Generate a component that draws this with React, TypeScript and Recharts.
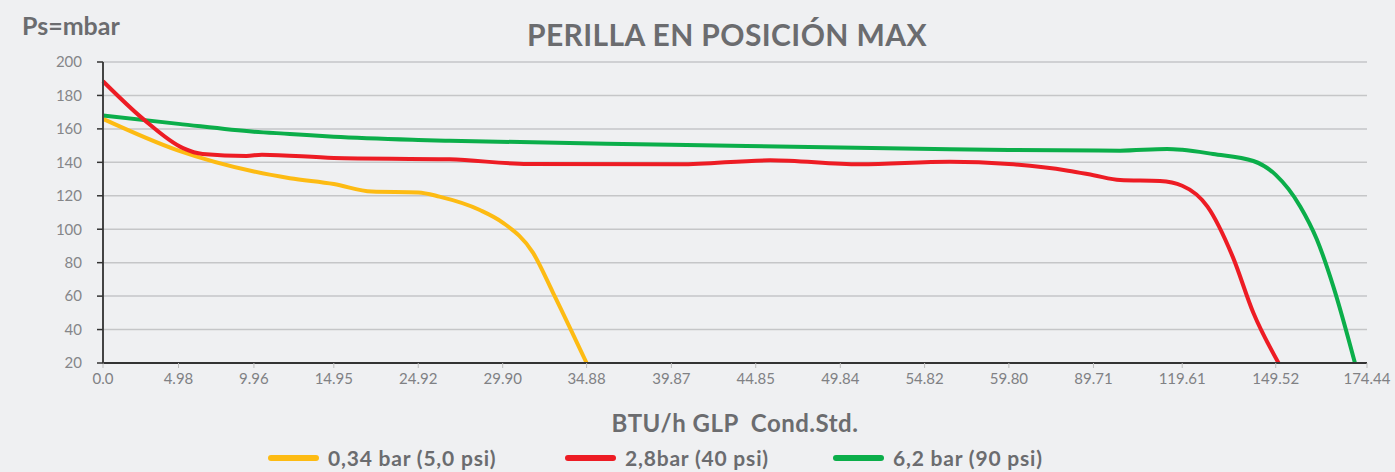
import { LineChart, Line, XAxis, YAxis, CartesianGrid } from "recharts";

// x axis is drawn in "position" units; the source picture spaces its category labels unevenly
const xLabels = ["0.0", "4.98", "9.96", "14.95", "24.92", "29.90", "34.88", "39.87", "44.85", "49.84", "54.82", "59.80", "89.71", "119.61", "149.52", "174.44"];
const xTickPos = [0, 0.896, 1.791, 2.739, 3.741, 4.743, 5.739, 6.745, 7.746, 8.75, 9.75, 10.75, 11.754, 12.807, 13.917, 15];
const yTicks = [20, 40, 60, 80, 100, 120, 140, 160, 180, 200];

const yellowX = [0, 0.896, 1.791, 2.218, 2.739, 3.19, 3.741, 3.992, 4.472, 4.743, 5.102, 5.341, 5.739];
const yellowY = [166, 147, 134.5, 130.5, 127, 122.5, 122, 119.5, 111.5, 104, 86, 62, 20];

const redX = [0, 0.475, 0.95, 1.182, 1.702, 1.886, 2.739, 4.112, 5.042, 6.845, 7.917, 8.98, 10.05, 10.75, 11.453, 11.754, 12.07, 12.544, 12.807, 13.107, 13.406, 13.651, 13.95];
const redY = [188.5, 166, 148.5, 145, 143.8, 144.6, 142.6, 141.8, 139, 138.8, 141.2, 138.8, 140.4, 139, 135, 132.3, 129.4, 128.8, 126, 113.5, 83.6, 50, 20];

const greenX = [0, 0.896, 1.791, 2.218, 2.739, 3.741, 4.112, 6.745, 10.05, 10.75, 12.07, 12.628, 12.807, 13.173, 13.651, 13.917, 14.209, 14.404, 14.599, 14.857];
const greenY = [168, 163, 158.3, 157, 155.3, 153.4, 152.9, 150.5, 147.8, 147.4, 147, 148, 147.5, 145, 140.8, 132.5, 113.5, 94, 66, 20];

const seriesNames = ["0,34 bar (5,0 psi)", "2,8bar (40 psi)", "6,2 bar (90 psi)"];
const seriesColors = ["#FDBB13", "#ED1C24", "#0BAE4A"];

const toPoints = (xs: number[], ys: number[]) => xs.map((x, i) => ({ x, y: ys[i] }));

const yellowData = toPoints(yellowX, yellowY);
const redData = toPoints(redX, redY);
const greenData = toPoints(greenX, greenY);

const font = "Lato, 'Open Sans', sans-serif";
const textGray = "#6b6c6f";

export default function App() {
  return (
    <div style={{ position: "relative", width: 1395, height: 472, background: "#eff0f2", fontFamily: font, overflow: "hidden" }}>
      <style>{`body{margin:0}`}</style>
      <div style={{ position: "absolute", left: 22, top: 10, fontSize: 25, fontWeight: 700, color: textGray }}>Ps=mbar</div>
      <div style={{ position: "absolute", left: 0, width: 1454, top: 16, textAlign: "center", fontSize: 30, fontWeight: 700, color: textGray, letterSpacing: 0.4 }}>
        PERILLA EN POSICIÓN MAX
      </div>
      <LineChart width={1395} height={472} margin={{ top: 62, right: 28, left: 43, bottom: 79 }} style={{ position: "absolute", left: 0, top: 0 }}>
        <CartesianGrid vertical={false} stroke="#c5c6c8" strokeWidth={1.5} />
        <XAxis
          type="number"
          dataKey="x"
          domain={[0, 15]}
          ticks={xTickPos}
          tickFormatter={(v: number) => xLabels[xTickPos.indexOf(v)]}
          interval={0}
          axisLine={{ stroke: "#333", strokeWidth: 2 }}
          tickLine={{ stroke: "#bdbdbd" }}
          tickSize={5}
          tickMargin={5}
          tick={{ fontSize: 15, fill: "#808184", fontFamily: font }}
          height={30}
        />
        <YAxis
          domain={[20, 200]}
          ticks={yTicks}
          interval={0}
          axisLine={{ stroke: "#444", strokeWidth: 2 }}
          tickLine={{ stroke: "#333", strokeWidth: 1.5 }}
          tickSize={6}
          tickMargin={15}
          tick={{ fontSize: 15, fill: "#858689", fontFamily: font }}
          width={60}
        />
        <Line data={yellowData} dataKey="y" type="monotone" stroke={seriesColors[0]} strokeWidth={4} dot={false} isAnimationActive={false} />
        <Line data={greenData} dataKey="y" type="monotone" stroke={seriesColors[2]} strokeWidth={4} dot={false} isAnimationActive={false} />
        <Line data={redData} dataKey="y" type="monotone" stroke={seriesColors[1]} strokeWidth={4} dot={false} isAnimationActive={false} />
      </LineChart>
      <div style={{ position: "absolute", left: 0, width: 1470, top: 408, textAlign: "center", fontSize: 24, fontWeight: 700, color: textGray, whiteSpace: "pre", letterSpacing: 0.5 }}>
        {"BTU/h GLP  Cond.Std."}
      </div>
      {seriesNames.map((name, i) => (
        <div
          key={name}
          style={{ position: "absolute", left: [268, 565, 833][i], top: 446, height: 24, lineHeight: "24px", display: "flex", alignItems: "center", fontSize: 21, fontWeight: 700, color: textGray, whiteSpace: "nowrap", letterSpacing: 0.8 }}
        >
          <span style={{ display: "inline-block", width: 51, height: 6, borderRadius: 3, background: seriesColors[i], marginRight: 9 }} />
          {name}
        </div>
      ))}
    </div>
  );
}
